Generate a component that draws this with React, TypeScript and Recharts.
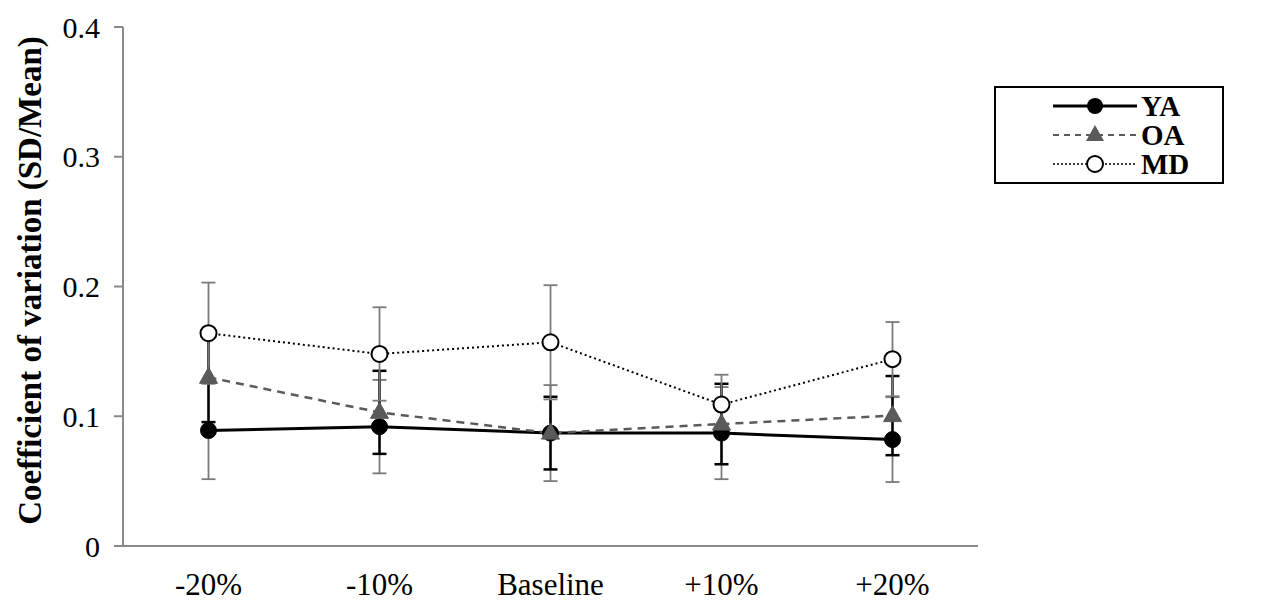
import React from "react";
import { LineChart, Line, XAxis, YAxis, ErrorBar } from "recharts";

const categories = ["-20%", "-10%", "Baseline", "+10%", "+20%"];
const yTicks = [0, 0.1, 0.2, 0.3, 0.4];

const yaMean = [0.089, 0.092, 0.087, 0.087, 0.082];
const yaSd = [0.0375, 0.036, 0.037, 0.0355, 0.0327];
const oaMean = [0.13, 0.103, 0.087, 0.094, 0.1005];
const oaSd = [0.0345, 0.032, 0.028, 0.031, 0.0305];
const mdMean = [0.164, 0.148, 0.157, 0.109, 0.144];
const mdSd = [0.039, 0.036, 0.044, 0.023, 0.0286];

const FONT = "Liberation Serif, Times New Roman, DejaVu Serif, serif";
const AXIS_GREY = "#8a8a8a";

const data = categories.map((name, i) => ({
  pos: i + 0.5,
  name,
  ya: yaMean[i],
  yaErr: yaSd[i],
  oa: oaMean[i],
  oaErr: oaSd[i],
  md: mdMean[i],
  mdErr: mdSd[i],
}));

const Triangle = (props: any) => {
  const { cx, cy } = props;
  if (cx == null || cy == null) return null;
  return (
    <polygon
      points={`${cx},${cy - 10} ${cx - 9},${cy + 6} ${cx + 9},${cy + 6}`}
      fill="#5a5a5a"
      stroke="#5a5a5a"
      strokeWidth={1}
    />
  );
};

// legend samples
const LegendRow = ({ kind, label }: { kind: string; label: string }) => (
  <div style={{ display: "flex", alignItems: "center", height: 29 }}>
    <svg width={84} height={24} style={{ marginLeft: 57 }}>
      {kind === "ya" && (
        <>
          <line x1={0} y1={12} x2={84} y2={12} stroke="#000" strokeWidth={3} />
          <circle cx={42} cy={12} r={8} fill="#000" />
        </>
      )}
      {kind === "oa" && (
        <>
          <line x1={0} y1={12} x2={84} y2={12} stroke="#5a5a5a" strokeWidth={2} strokeDasharray="6 5" />
          <polygon points="42,2 33,18 51,18" fill="#5a5a5a" />
        </>
      )}
      {kind === "md" && (
        <>
          <line x1={0} y1={12} x2={84} y2={12} stroke="#000" strokeWidth={1.5} strokeDasharray="2 2" />
          <circle cx={42} cy={12} r={8} fill="#fff" stroke="#000" strokeWidth={2} />
        </>
      )}
    </svg>
    <span style={{ marginLeft: 4, fontFamily: FONT, fontWeight: "bold", fontSize: 29, lineHeight: "28px" }}>{label}</span>
  </div>
);

const YLabel = (props: any) => {
  const vb = props.viewBox || { x: 0, y: 0, width: 0, height: 0 };
  const x = vb.x + 30;
  const y = vb.y + vb.height / 2 - 6;
  return (
    <text
      x={x}
      y={y}
      transform={`rotate(-90, ${x}, ${y})`}
      textAnchor="middle"
      dominantBaseline="central"
      style={{ fontFamily: FONT, fontWeight: "bold", fontSize: 33 }}
      fill="#000"
    >
      Coefficient of variation (SD/Mean)
    </text>
  );
};

const xTickStyle = { fill: "#000", fontFamily: FONT, fontSize: 31 };
const yTickStyle = { fill: "#000", fontFamily: FONT, fontSize: 30 };

export default function App() {
  return (
    <div style={{ position: "absolute", left: 0, top: 0, width: 1267, height: 608, background: "#fff", fontFamily: FONT }}>
      <LineChart
        width={1267}
        height={608}
        data={data}
        margin={{ top: 27, right: 289, bottom: 12, left: 0 }}
        style={{ fontFamily: FONT }}
      >
        <XAxis
          xAxisId="grid"
          type="number"
          dataKey="pos"
          domain={[0, 5]}
          ticks={[0, 1, 2, 3, 4, 5]}
          tick={false}
          height={10}
          stroke={AXIS_GREY}
          strokeWidth={2}
          tickSize={8}
          allowDataOverflow
        />
        <XAxis
          xAxisId="lab"
          type="number"
          dataKey="pos"
          domain={[0, 5]}
          ticks={[0.5, 1.5, 2.5, 3.5, 4.5]}
          tickFormatter={(v: number) => categories[Math.floor(v)]}
          axisLine={false}
          tickLine={false}
          height={40}
          tickSize={6}
          tickMargin={11}
          tick={xTickStyle}
          allowDataOverflow
        />
        <YAxis
          type="number"
          domain={[0, 0.4]}
          ticks={yTicks}
          tickFormatter={(v: number) => (v === 0 ? "0" : v.toFixed(1))}
          width={123}
          stroke={AXIS_GREY}
          strokeWidth={2}
          tickSize={9}
          tickMargin={14}
          tick={yTickStyle}
          label={<YLabel />}
        />
        <Line
          xAxisId="grid"
          dataKey="ya"
          stroke="#000"
          strokeWidth={3}
          dot={{ r: 8, fill: "#000", stroke: "#000", strokeWidth: 1 }}
          isAnimationActive={false}
        >
          <ErrorBar dataKey="yaErr" width={7} stroke="#7a7a7a" strokeWidth={1.8} direction="y" isAnimationActive={false} />
        </Line>
        <Line
          xAxisId="grid"
          dataKey="oa"
          stroke="#5a5a5a"
          strokeWidth={2.5}
          strokeDasharray="8 6"
          dot={<Triangle />}
          isAnimationActive={false}
        >
          <ErrorBar dataKey="oaErr" width={7} stroke="#000" strokeWidth={2.5} direction="y" isAnimationActive={false} />
        </Line>
        <Line
          xAxisId="grid"
          dataKey="md"
          stroke="#000"
          strokeWidth={2}
          strokeDasharray="2 3"
          dot={{ r: 8, fill: "#fff", stroke: "#000", strokeWidth: 2, strokeDasharray: "none" }}
          isAnimationActive={false}
        >
          <ErrorBar dataKey="mdErr" width={7} stroke="#7a7a7a" strokeWidth={1.8} direction="y" isAnimationActive={false} />
        </Line>
      </LineChart>
      <div
        style={{
          position: "absolute",
          left: 994,
          top: 86,
          width: 226,
          height: 91,
          border: "2px solid #000",
          paddingTop: 3,
          boxSizing: "content-box",
        }}
      >
        <LegendRow kind="ya" label="YA" />
        <LegendRow kind="oa" label="OA" />
        <LegendRow kind="md" label="MD" />
      </div>
    </div>
  );
}
